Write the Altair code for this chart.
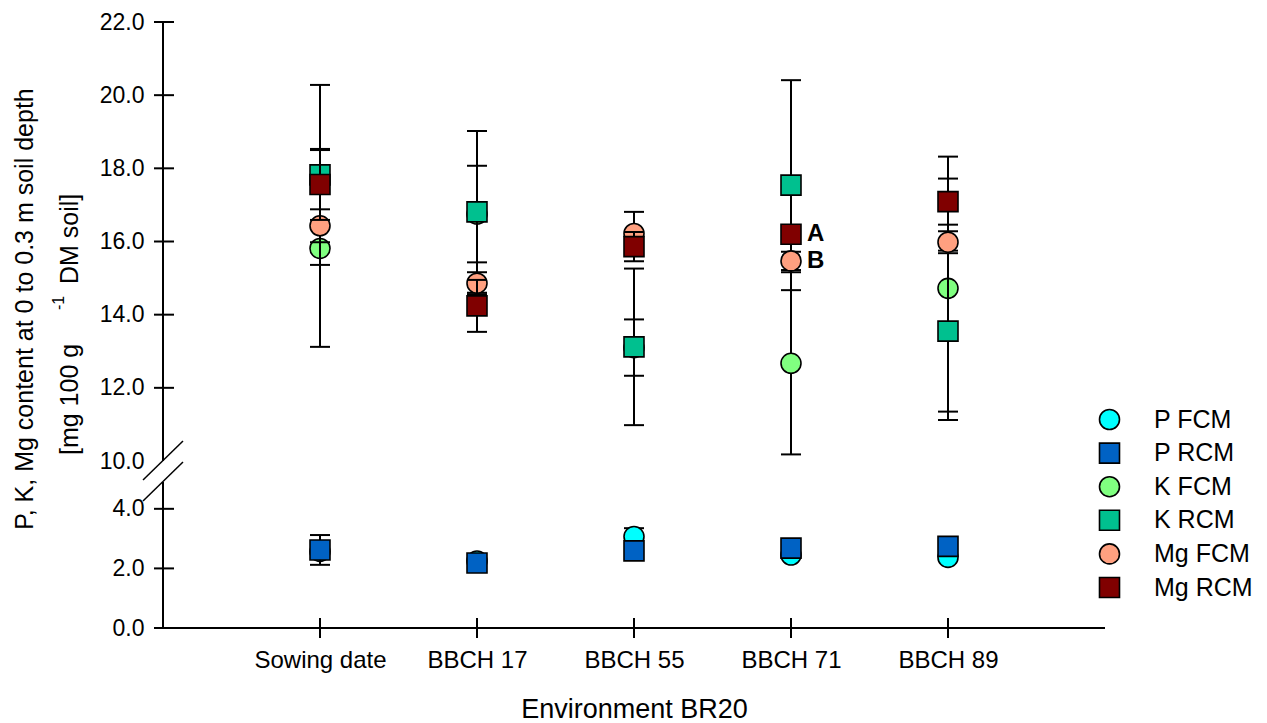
import altair as alt
import pandas as pd

# ---------------- data ----------------
categories = ["Sowing date", "BBCH 17", "BBCH 55", "BBCH 71", "BBCH 89"]
series_names = ["P FCM", "P RCM", "K FCM", "K RCM", "Mg FCM", "Mg RCM"]
series_colors = ["#00FFFF", "#0062C4", "#80FF80", "#00C08F", "#FFA080", "#800000"]
series_shapes = ["circle", "square", "circle", "square", "circle", "square"]
series_outline = ["black"] * 6

p_fcm_mean = [2.57, 2.25, 3.07, 2.45, 2.37]
p_fcm_sd = [0.12, 0.05, 0.28, 0.10, 0.10]
p_rcm_mean = [2.62, 2.18, 2.59, 2.68, 2.74]
p_rcm_sd = [0.50, 0.10, 0.20, 0.25, 0.25]
k_fcm_mean = [15.81, 16.75, 13.10, 12.67, 14.72]
k_fcm_sd = [2.69, 1.32, 0.77, 2.49, 3.60]
k_rcm_mean = [17.82, 16.81, 13.12, 17.54, 13.55]
k_rcm_sd = [2.46, 2.21, 2.14, 2.87, 2.20]
mg_fcm_mean = [16.43, 14.86, 16.22, 15.47, 15.98]
mg_fcm_sd = [0.45, 0.30, 0.59, 0.25, 0.30]
mg_rcm_mean = [17.56, 14.24, 15.86, 16.20, 17.09]
mg_rcm_sd = [0.97, 0.71, 0.40, 0.20, 0.63]

y_tick_values = [0, 2, 4, 10, 12, 14, 16, 18, 20, 22]
y_break_low = 4.9
y_break_high = 10
y_max = 22
annot_text = ["A", "B"]
annot_series = ["Mg RCM", "Mg FCM"]
annot_cat = "BBCH 71"

x_title = "Environment BR20"
y_title_line1 = "P, K, Mg content at 0 to 0.3 m soil depth"
y_title_line2 = ["[mg 100 g", "-1", "DM soil]"]

# ---------------- tables ----------------
all_means = [p_fcm_mean, p_rcm_mean, k_fcm_mean, k_rcm_mean, mg_fcm_mean, mg_rcm_mean]
all_sds = [p_fcm_sd, p_rcm_sd, k_fcm_sd, k_rcm_sd, mg_fcm_sd, mg_rcm_sd]
rows = []
for name, means, sds in zip(series_names, all_means, all_sds):
    for c, m, s in zip(categories, means, sds):
        rows.append({"series": name, "cat": c, "mean": m, "lo": m - s, "hi": m + s})
df = pd.DataFrame(rows)

FONT = "Liberation Sans"
W, H = 942, 606

x_scale = alt.Scale(type="point", domain=categories, padding=1)
x_axis = alt.Axis(title=x_title, labelFont=FONT, labelFontSize=24, labelColor="black",
                  labelPadding=20, ticks=False, tickSize=0, domain=False, grid=False,
                  labelAngle=0, titleFont=FONT, titleFontSize=27, titleFontWeight="normal",
                  titleColor="black", titlePadding=24)
y_scale = alt.Scale(domain=[0, y_break_low, y_break_high, y_max], range=[H, 460, 439, 0],
                    nice=False, zero=False)
y_axis = alt.Axis(values=y_tick_values, format=".1f", labelFont=FONT, labelFontSize=23,
                  labelColor="black", labelPadding=19, ticks=False, tickSize=0, domain=False,
                  grid=False, labelFlush=False, labelOverlap=False, labelBound=False)

fill_scale = alt.Scale(domain=series_names, range=series_colors)
shape_scale = alt.Scale(domain=series_names, range=series_shapes)
stroke_scale = alt.Scale(domain=series_names, range=series_outline)
legend = alt.Legend(title=None, orient="none", legendX=934, legendY=385, symbolSize=400,
                    labelFont=FONT, labelFontSize=25, labelColor="black",
                    symbolStrokeColor="black", symbolStrokeWidth=1.6, labelOffset=32,
                    rowPadding=6.6, padding=0)


def X(field="cat:N"):
    return alt.X(field, scale=x_scale, axis=x_axis)


def Y(field):
    return alt.Y(field, type="quantitative", scale=y_scale, axis=y_axis, title=None)


layers = []

# axis lines (with break)
axis_seg = pd.DataFrame({"lo": [0, y_break_high], "hi": [y_break_low, y_max]})
layers.append(alt.Chart(axis_seg).mark_rule(color="black", strokeWidth=2).encode(
    x=alt.value(0), y=Y("lo"), y2=alt.Y2("hi")))
layers.append(alt.Chart(pd.DataFrame({"v": [0]})).mark_rule(color="black", strokeWidth=2).encode(
    y=Y("v"), x=alt.value(0), x2=alt.value(W)))
# crossing tick marks
ytick_df = pd.DataFrame({"v": [v for v in y_tick_values if v != y_break_high]})
layers.append(alt.Chart(ytick_df).mark_rule(color="black", strokeWidth=2).encode(
    y=Y("v"), x=alt.value(-9), x2=alt.value(11)))
xtick_df = pd.DataFrame({"cat": categories})
layers.append(alt.Chart(xtick_df).mark_rule(color="black", strokeWidth=2).encode(
    x=X(), y=alt.value(H - 10), y2=alt.value(H + 10)))
# axis break slashes
brk = pd.DataFrame({"k": [0, 1]})
layers.append(alt.Chart(brk).transform_filter("datum.k == 0").mark_rule(color="black", strokeWidth=1.5).encode(
    x=alt.value(-20), x2=alt.value(20), y=alt.value(458), y2=alt.value(419)))
layers.append(alt.Chart(brk).transform_filter("datum.k == 1").mark_rule(color="black", strokeWidth=1.5).encode(
    x=alt.value(-20), x2=alt.value(20), y=alt.value(479), y2=alt.value(440)))

# series: error bar then marker
for name in series_names:
    sub = df[df["series"] == name]
    base = alt.Chart(sub)
    layers.append(base.mark_rule(color="black", strokeWidth=2).encode(
        x=X(), y=Y("lo"), y2=alt.Y2("hi")))
    layers.append(base.mark_tick(color="black", thickness=2, size=20, opacity=1).encode(
        x=X(), y=Y("lo")))
    layers.append(base.mark_tick(color="black", thickness=2, size=20, opacity=1).encode(
        x=X(), y=Y("hi")))
    layers.append(base.mark_point(filled=True, size=400, strokeWidth=1.6, opacity=1).encode(
        x=X(), y=Y("mean"),
        fill=alt.Fill("series:N", scale=fill_scale, legend=legend),
        shape=alt.Shape("series:N", scale=shape_scale, legend=legend),
        stroke=alt.Stroke("series:N", scale=stroke_scale, legend=legend)))

# significance letters
ann_rows = []
for t, s in zip(annot_text, annot_series):
    r = df[(df["series"] == s) & (df["cat"] == annot_cat)].iloc[0]
    ann_rows.append({"t": t, "cat": r["cat"], "mean": r["mean"]})
ann = pd.DataFrame(ann_rows)
layers.append(alt.Chart(ann).mark_text(align="left", baseline="middle", dx=16, font=FONT,
                                       fontSize=24, fontWeight="bold", color="black").encode(
    x=X(), y=Y("mean"), text="t:N"))

# y-axis title (two lines, superscript)
layers.append(alt.Chart(pd.DataFrame({"t": [y_title_line1]})).mark_text(
    angle=270, align="center", baseline="middle", font=FONT, fontSize=25, color="black").encode(
    text="t:N", x=alt.value(-138), y=alt.value(287)))
layers.append(alt.Chart(pd.DataFrame({"t": [y_title_line2[0]]})).mark_text(
    angle=270, align="left", baseline="middle", font=FONT, fontSize=25, color="black").encode(
    text="t:N", x=alt.value(-93), y=alt.value(433)))
layers.append(alt.Chart(pd.DataFrame({"t": [y_title_line2[1]]})).mark_text(
    angle=270, align="left", baseline="middle", font=FONT, fontSize=16, color="black").encode(
    text="t:N", x=alt.value(-104), y=alt.value(288)))
layers.append(alt.Chart(pd.DataFrame({"t": [y_title_line2[2]]})).mark_text(
    angle=270, align="left", baseline="middle", font=FONT, fontSize=25, color="black").encode(
    text="t:N", x=alt.value(-93), y=alt.value(262)))

chart = alt.layer(*layers).properties(
    width=W, height=H,
    autosize=alt.AutoSizeParams(type="none"),
    padding={"left": 155, "top": 14, "right": 154, "bottom": 96},
    background="white",
).configure_view(strokeWidth=0)

chart.save("out.html", embed_options={"renderer": "svg", "actions": False})
